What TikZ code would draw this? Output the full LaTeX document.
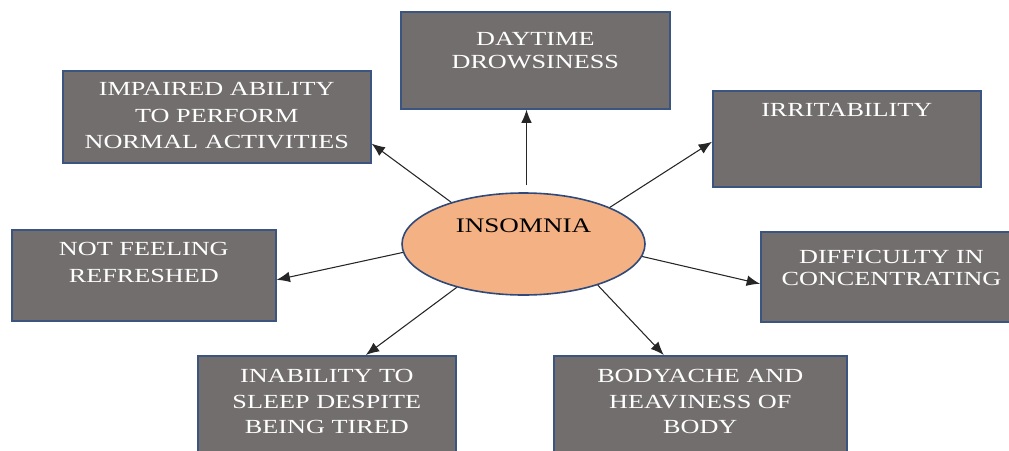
\documentclass[tikz,border=0pt]{standalone}
\usepackage{fontspec}
\setmainfont{Liberation Serif}[FakeStretch=1.31]
\usetikzlibrary{arrows.meta,shapes.geometric}
\definecolor{boxfill}{HTML}{736E6E}
\definecolor{boxline}{HTML}{3B5480}
\definecolor{ovalfill}{HTML}{F4B183}
\definecolor{ovalline}{HTML}{2F4A7A}
\newcommand\symsize[1]{\fontsize{15pt}{#1}\selectfont}

\begin{document}
\begin{tikzpicture}[x=0.75pt,y=-0.75pt,
  effectbox/.style={draw=boxline, fill=boxfill, line width=1.2pt, text=white,
    inner sep=0pt, anchor=north west, align=center},
  cause/.style={ellipse, draw=ovalline, fill=ovalfill, line width=1.2pt,
    inner sep=0pt, minimum width=182.25pt, minimum height=76.5pt,
    font=\fontsize{15.5pt}{19pt}\selectfont, text height=11pt, text depth=29pt},
  link/.style={draw=black!85, line width=0.8pt, -{Latex[length=10pt,width=8pt]}}
]
\useasboundingbox (0,0) rectangle (1009,450);

% central condition
\node[cause] (ins) at (523.5,244) {INSOMNIA};

% consequences
\node[effectbox, text width=201.75pt, text height=25.5pt, text depth=47.25pt,
      font=\symsize{17.25pt}] (day) at (400,11) {DAYTIME\\DROWSINESS};
\node[effectbox, text width=231pt, text height=18.75pt, text depth=50.25pt,
      font=\symsize{19.9pt}] (imp) at (62,70) {IMPAIRED ABILITY\\TO PERFORM\\NORMAL ACTIVITIES};
\node[effectbox, text width=201pt, text height=19.5pt, text depth=52.5pt,
      font=\symsize{19pt}] (irr) at (712,90) {IRRITABILITY};
\node[effectbox, text width=198pt, text height=19.5pt, text depth=48.75pt,
      font=\symsize{20.25pt}] (nf) at (11,229) {NOT FEELING\\REFRESHED};
\node[effectbox, text width=196pt, text height=24pt, text depth=43.5pt,
      font=\symsize{16.5pt}] (diff) at (760,231) {DIFFICULTY IN\\CONCENTRATING};
\node[effectbox, text width=193.5pt, text height=20.25pt, text depth=54.75pt,
      font=\symsize{19.1pt}] (inab) at (197,355) {INABILITY TO\\SLEEP DESPITE\\BEING TIRED};
\node[effectbox, text width=219.75pt, text height=20.25pt, text depth=54.75pt,
      font=\symsize{19.1pt}] (body) at (553,355) {BODYACHE AND\\HEAVINESS OF\\BODY};

% connectors
\draw[link] ([xshift=2.25pt,yshift=5.25pt]ins.north) -- ([xshift=2.25pt]ins.north |- day.south);
\draw[link] (ins.150) -- ([yshift=15pt]imp.south east);
\draw[link] (ins.23) -- ([yshift=-2.25pt]irr.west);
\draw[link] (ins.184) -- ([yshift=-3.4pt]nf.east);
\draw[link] (ins.354) -- ([yshift=-5.25pt]diff.west);
\draw[link] (ins.213) -- ([xshift=29.25pt]inab.north);
\draw[link] (ins.331) -- ([xshift=-27.4pt]body.north);
\end{tikzpicture}
\end{document}
